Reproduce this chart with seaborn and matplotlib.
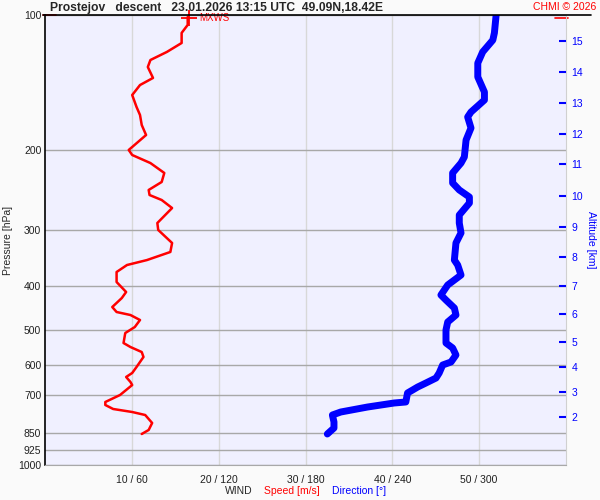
import numpy as np
import pandas as pd
import seaborn as sns
import matplotlib.pyplot as plt
from matplotlib.lines import Line2D

# Wind speed profile (m/s) vs pressure (hPa)
speed_p = [101.0, 105.2, 109.6, 115.4, 120.8, 125.9, 130.5, 138.0, 143.1, 150.6,
           160.1, 166.8, 175.6, 184.8, 199.5, 204.7, 213.3, 224.4, 235.0, 244.8,
           251.2, 257.7, 268.5, 289.9, 300.4, 321.1, 336.2, 350.4, 359.4, 372.5,
           392.1, 412.6, 425.6, 445.6, 457.1, 464.2, 476.2, 493.6, 509.0, 535.7,
           546.8, 561.0, 575.4, 605.6, 624.5, 637.4, 654.0, 664.2, 698.9, 724.4,
           735.6, 750.8, 762.5, 774.3, 806.5, 835.9, 853.3]
speed_ms = [16.4, 16.4, 15.7, 15.7, 14.0, 12.1, 11.8, 12.4, 10.9, 10.0,
            10.5, 10.9, 11.1, 11.6, 9.6, 10.0, 12.1, 13.7, 13.4, 11.9,
            12.0, 13.4, 14.6, 12.9, 13.0, 14.6, 14.4, 11.7, 9.4, 8.2,
            8.2, 9.3, 8.8, 7.7, 8.2, 9.8, 10.9, 10.3, 9.2, 9.0,
            9.8, 11.1, 11.3, 10.5, 10.0, 9.3, 9.8, 10.0, 8.6, 6.9,
            6.9, 7.8, 10.0, 11.5, 12.3, 11.9, 11.1]

# Wind direction profile (deg) vs pressure (hPa)
dir_p = [100.0, 109.6, 113.7, 120.8, 127.9, 137.3, 148.3, 154.5, 164.3, 168.5,
         178.3, 189.6, 206.8, 213.3, 224.4, 236.2, 244.8, 253.8, 261.7, 278.3,
         289.9, 305.0, 321.1, 350.4, 359.4, 378.3, 398.1, 419.0, 430.0, 447.9,
         464.2, 481.1, 501.2, 535.7, 549.5, 569.6, 590.3, 599.5, 624.5, 640.8,
         657.4, 671.0, 691.8, 724.4, 728.2, 743.3, 762.5, 774.3, 802.4, 827.6,
         853.3]
dir_deg = [311.8, 310.6, 309.5, 302.5, 299.1, 299.1, 303.7, 303.7, 294.4, 292.1,
           294.4, 291.0, 289.8, 287.5, 281.7, 281.7, 286.3, 293.3, 293.3, 286.3,
           286.3, 287.5, 284.0, 282.9, 285.2, 287.5, 278.3, 273.6, 277.1, 282.9,
           284.0, 278.3, 277.1, 277.1, 281.7, 284.0, 280.6, 274.8, 272.4, 270.2,
           263.2, 257.5, 250.5, 249.3, 241.2, 222.8, 204.3, 198.5, 199.6, 199.6,
           195.0]

# Axis ticks
p_ticks = [100, 200, 300, 400, 500, 600, 700, 850, 925, 1000]
x_ticks = [10, 20, 30, 40, 50]
x_labels = ['10 / 60', '20 / 120', '30 / 180', '40 / 240', '50 / 300']
alt_km = [2, 3, 4, 5, 6, 7, 8, 9, 10, 11, 12, 13, 14, 15]
alt_p = [781.0, 687.3, 604.7, 532.1, 462.5, 399.6, 344.5, 295.4, 252.1, 214.7,
         183.9, 156.6, 133.7, 114.1]

# max wind marker
mxws_speed = 16.6
mxws_p = 101.8

sns.set_style('white')
plt.rcParams['font.family'] = ['Liberation Sans', 'DejaVu Sans']

RED = '#ff0000'
BLUE = '#0000ff'

fig = plt.figure(figsize=(6, 5), dpi=100, facecolor='#fafafa')
ax = fig.add_axes([0.0758, 0.07, 0.8672, 0.90])
ax.set_facecolor('#f0f0ff')

ax.set_yscale('log')
ax.set_ylim(1000, 100)
ax.set_xlim(0, 60)

ax.set_yticks(p_ticks)
ax.set_yticklabels([str(p) for p in p_ticks])
ax.yaxis.set_minor_locator(plt.NullLocator())
ax.set_xticks(x_ticks)
ax.set_xticklabels(x_labels)
ax.tick_params(axis='y', length=0, pad=3, labelsize=7.5, colors='#202020')
ax.tick_params(axis='x', length=0, pad=7, labelsize=7.5, colors='#202020')
ax.yaxis.grid(True, color='#a8a8a8', lw=1.0)
ax.xaxis.grid(True, color='#d8d8d8', lw=1.0)
ax.set_axisbelow(True)

ax.spines['top'].set_visible(False)
ax.spines['left'].set_color('black')
ax.spines['left'].set_linewidth(1.2)
ax.spines['bottom'].set_color('#a8a8a8')
ax.spines['right'].set_color('#d0d0d0')

ax.set_ylabel('Pressure [hPa]', fontsize=7.5, labelpad=4)

speed_df = pd.DataFrame({'speed': speed_ms, 'p': speed_p})
sns.lineplot(data=speed_df, x='speed', y='p', sort=False, estimator=None,
             color=RED, lw=1.8, solid_joinstyle='round', ax=ax)
ax.set_xlabel('')

# direction on its own 0-360 scale
ax2 = ax.twiny()
ax2.set_xlim(0, 360)
dir_df = pd.DataFrame({'dir': dir_deg, 'p': dir_p})
sns.lineplot(data=dir_df, x='dir', y='p', sort=False, estimator=None,
             color=BLUE, lw=5, solid_capstyle='round', solid_joinstyle='round', ax=ax2)
ax2.set_xlabel('')
ax2.set_xticks([])
for s in ax2.spines.values():
    s.set_visible(False)
ax2.set_ylim(1000, 100)

# altitude axis
ax3 = ax.twinx()
ax3.set_yscale('log')
ax3.set_ylim(1000, 100)
ax3.set_yticks(alt_p)
ax3.set_yticklabels([str(a) for a in alt_km])
ax3.yaxis.set_minor_locator(plt.NullLocator())
ax3.tick_params(axis='y', direction='in', length=5, width=1.5, color=BLUE,
                labelcolor=BLUE, labelsize=7.5, pad=4)
for s in ax3.spines.values():
    s.set_visible(False)
ax3.set_ylabel('Altitude [km]', color=BLUE, fontsize=7.5, rotation=270, labelpad=9)

# max wind marker
ax3.plot([], [])
ax.plot([mxws_speed], [mxws_p], marker='+', color=RED, ms=11, mew=1.3,
        clip_on=False, zorder=5)
ax.text(mxws_speed + 1.1, mxws_p, 'MXWS', color=RED, fontsize=7,
        va='center', ha='left')

# small red marks at top
yt = ax.get_yaxis_transform()
ax.plot([-0.005, 0.02], [100, 100], color=RED, lw=1.2, transform=yt, clip_on=False)
ax.plot([0.98, 1.004], [mxws_p, mxws_p], color=RED, lw=1.2, transform=yt, clip_on=False)

# top rule and title
fig.add_artist(Line2D([43 / 600, 591 / 600], [1 - 15 / 500, 1 - 15 / 500],
                      color='black', lw=1.2))
fig.text(50 / 600, 1 - 8.5 / 500,
         'Prostejov   descent   23.01.2026 13:15 UTC  49.09N,18.42E',
         fontsize=8.7, fontweight='bold', va='center', ha='left')
fig.text(596 / 600, 1 - 7 / 500, 'CHMI © 2026', color=RED, fontsize=7.5,
         va='center', ha='right')

# bottom caption
yb = 1 - 491 / 500
fig.text(225 / 600, yb, 'WIND', fontsize=7.5, va='center', ha='left')
fig.text(264 / 600, yb, 'Speed [m/s]', color=RED, fontsize=7.5, va='center', ha='left')
fig.text(332 / 600, yb, 'Direction [°]', color=BLUE, fontsize=7.5, va='center', ha='left')

fig.savefig('out.png', dpi=100, facecolor=fig.get_facecolor())
